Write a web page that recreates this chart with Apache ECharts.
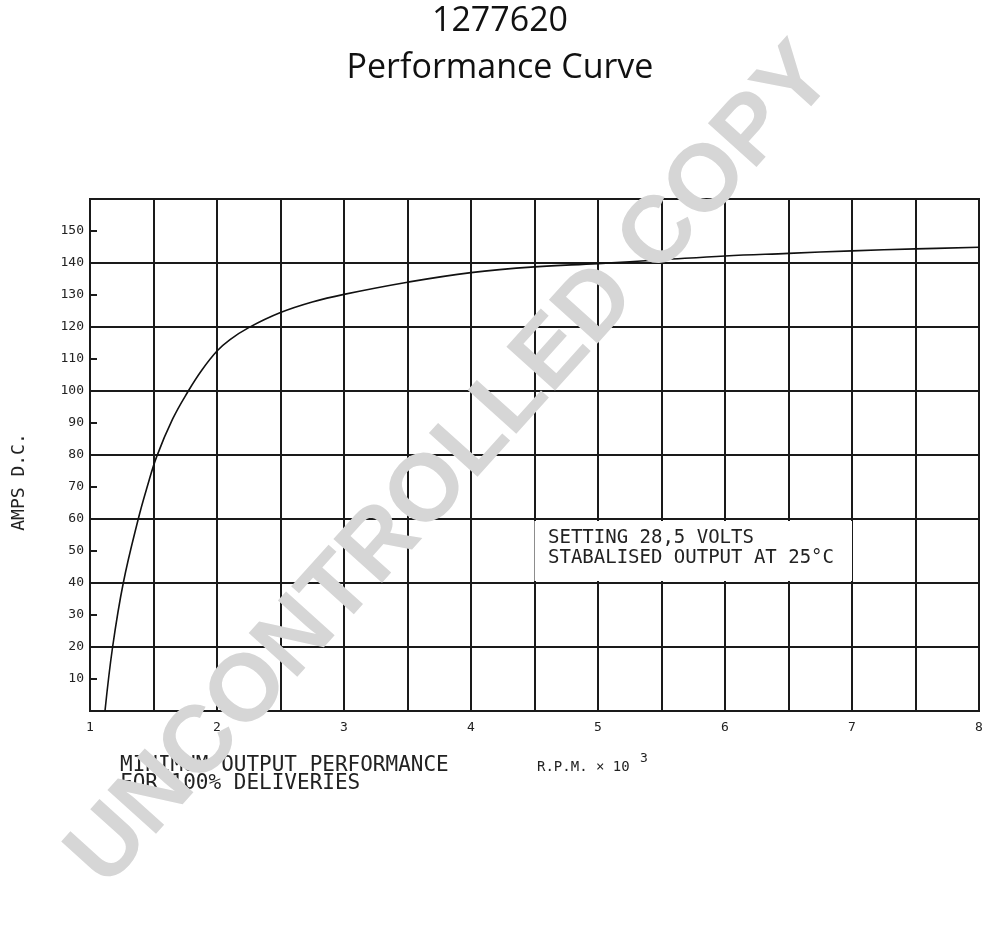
<!DOCTYPE html>
<html>
<head>
<meta charset="utf-8">
<script src="https://cdn.jsdelivr.net/npm/echarts@6/dist/echarts.min.js"></script>
<style>
html,body{margin:0;padding:0;background:#fff;}
#chart{width:1000px;height:932px;}
</style>
</head>
<body>
<div id="chart"></div>
<script>
// Data (RPM x 10^3 vs Amps D.C.)
const rpm  = [1.118, 1.178, 1.262, 1.38, 1.45, 1.525, 1.65, 1.774, 1.88,  2.00,  2.10,  2.25,  2.50,  2.75,  3.00,  3.50, 4.00, 4.50,  5.00,  5.50, 6.00,  6.50, 7.00,  7.50,  8.00];
const amps = [0,     20,    40,    60,   70,   79.5,  91.2, 100,   106.5, 112.5, 116,   119.8, 124.5, 127.8, 130.2, 134,  137,  138.8, 139.8, 141,  142.2, 143,  143.8, 144.4, 144.9];
const xTickLabels = ['1','2','3','4','5','6','7','8'];
const yTickLabels = ['10','20','30','40','50','60','70','80','90','100','110','120','130','140','150'];
const titleLines = ['1277620', 'Performance Curve'];
const noteLines = ['SETTING 28,5 VOLTS', 'STABALISED OUTPUT AT 25°C'];
const footLines = ['MINIMUM OUTPUT PERFORMANCE', 'FOR 100% DELIVERIES'];
const xAxisName = 'R.P.M. × 10';
const xAxisExp = '3';
const yAxisName = 'AMPS D.C.';
const watermark = 'UNCONTROLLED COPY';

const plotFont = "'DejaVu Sans Mono', monospace";
const chart = echarts.init(document.getElementById('chart'));
const lineCol = '#1a1a1a';

chart.setOption({
  backgroundColor: '#fff',
  animation: false,
  grid: {left: 90, right: 21, top: 199, bottom: 221, show: true, borderColor: lineCol, borderWidth: 2, backgroundColor: 'transparent'},
  xAxis: {
    type: 'value', min: 1, max: 8, interval: 0.5,
    axisLine: {show: true, lineStyle: {color: lineCol, width: 2}},
    axisTick: {show: false},
    axisLabel: {
      color: '#222', fontFamily: plotFont, fontSize: 13, margin: 10,
      showMinLabel: true, showMaxLabel: true,
      formatter: v => (Math.abs(v - Math.round(v)) < 1e-6 && xTickLabels.includes(String(Math.round(v)))) ? String(Math.round(v)) : ''
    },
    splitLine: {show: true, lineStyle: {color: lineCol, width: 2}}
  },
  yAxis: [{
    type: 'value', min: 0, max: 160, interval: 10,
    axisLine: {show: true, lineStyle: {color: lineCol, width: 2}},
    axisTick: {show: true, inside: true, length: 7, lineStyle: {color: lineCol, width: 2}},
    axisLabel: {
      color: '#222', fontFamily: plotFont, fontSize: 13, margin: 6,
      formatter: v => yTickLabels.includes(String(v)) ? String(v) : ''
    },
    splitLine: {show: false}
  }, {
    type: 'value', min: 0, max: 160, interval: 20, position: 'left',
    axisLine: {show: false}, axisTick: {show: false}, axisLabel: {show: false},
    splitLine: {show: true, lineStyle: {color: lineCol, width: 2}}
  }],
  series: [{
    type: 'line', yAxisIndex: 0,
    data: rpm.map((x, i) => [x, amps[i]]),
    smooth: 0.4, symbol: 'none',
    lineStyle: {color: '#111', width: 1.6},
    markArea: {
      silent: true,
      itemStyle: {color: '#fff'},
      data: [[{coord: [4.5, 40.6]}, {coord: [7.0, 59.4]}]],
      label: {show: false}
    },
    z: 3
  }],
  graphic: [
    {type: 'text', left: 'center', top: 4, style: {text: titleLines[0], font: "34px 'Open Sans', sans-serif", fill: '#111'}},
    {type: 'text', left: 'center', top: 51, style: {text: titleLines[1], font: "34px 'Open Sans', sans-serif", fill: '#111'}},
    {type: 'text', left: 548, top: 528, z: 10, style: {text: noteLines.join('\n'), font: "19px " + plotFont, fill: '#222', lineHeight: 20}},
    {type: 'text', left: 120, top: 755, z: 10, style: {text: footLines.join('\n'), font: "21px " + plotFont, fill: '#222', lineHeight: 18}},
    {type: 'text', left: 537, top: 760, z: 10, style: {text: xAxisName, font: "14px " + plotFont, fill: '#222'}},
    {type: 'text', left: 640, top: 752, z: 10, style: {text: xAxisExp, font: "13px " + plotFont, fill: '#222'}},
    {type: 'text', x: 19, y: 482, rotation: Math.PI / 2, z: 10, style: {text: yAxisName, font: "18px " + plotFont, fill: '#222', align: 'center', verticalAlign: 'middle'}},
    {type: 'text', x: 452, y: 466, rotation: 48 * Math.PI / 180, z: 100, silent: true,
      style: {text: watermark, font: "bold 95px 'Liberation Sans', Arial, sans-serif", fill: '#d6d6d6', align: 'center', verticalAlign: 'middle'}}
  ]
});
</script>
</body>
</html>
